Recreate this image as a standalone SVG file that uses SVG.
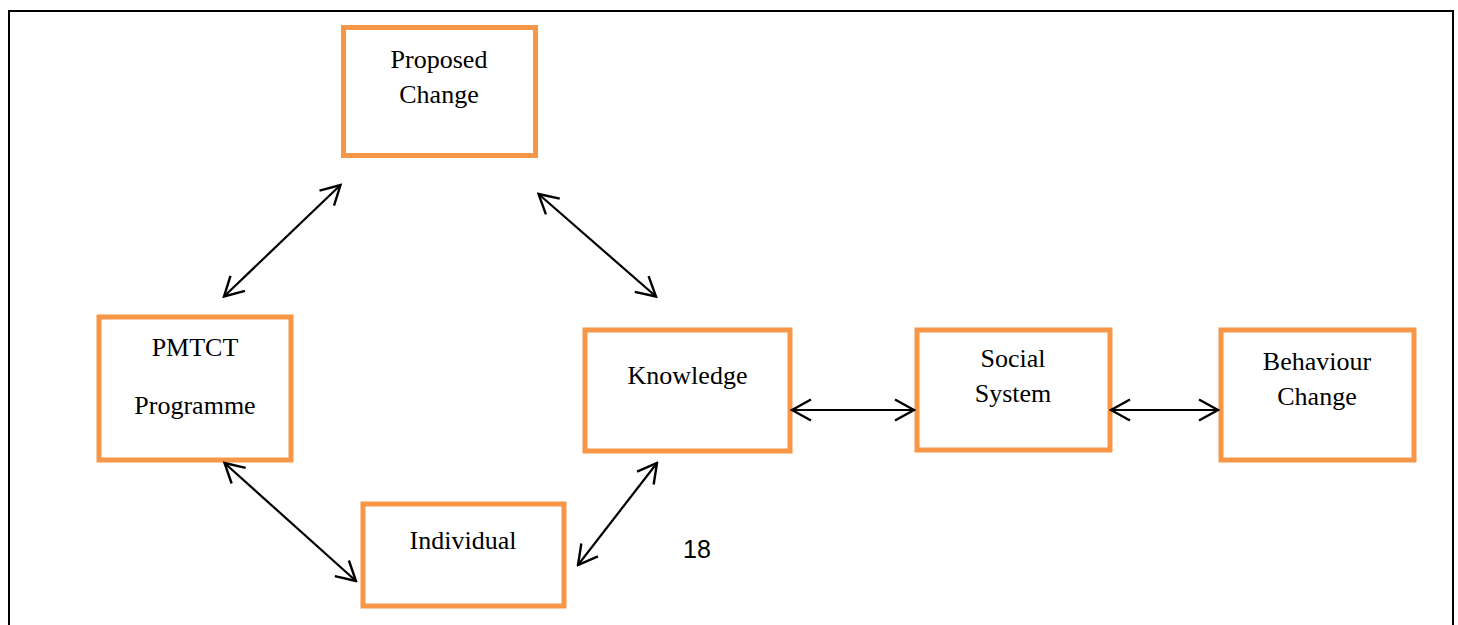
<svg xmlns="http://www.w3.org/2000/svg" width="1458" height="625" viewBox="0 0 1458 625">
<style>
.box{fill:#fff;stroke:#F79646;stroke-width:5}
.lbl{font-family:"Liberation Serif","Times New Roman",serif;font-size:26px;fill:#000;text-anchor:middle}
.con{stroke:#000;stroke-width:2.2;fill:none;marker-start:url(#ah);marker-end:url(#ah)}
</style>
<defs>
<marker id="ah" markerUnits="userSpaceOnUse" viewBox="-24 -13 26 26" refX="0" refY="0" markerWidth="26" markerHeight="26" orient="auto-start-reverse">
<path d="M-19,-10.5 L0,0 L-19,10.5" fill="none" stroke="#000" stroke-width="2.4"/>
</marker>
</defs>
<rect width="1458" height="625" fill="#fff"/>
<rect x="9" y="11" width="1444" height="640" fill="none" stroke="#000" stroke-width="2"/>
<g id="proposed-change"><rect class="box" x="343.5" y="27.5" width="192" height="128"/><text class="lbl" x="439" y="68">Proposed</text><text class="lbl" x="439" y="103">Change</text></g>
<g id="pmtct"><rect class="box" x="99" y="317" width="192" height="143"/><text class="lbl" x="195" y="356">PMTCT</text><text class="lbl" x="195" y="414">Programme</text></g>
<g id="knowledge"><rect class="box" x="585" y="330" width="205" height="121"/><text class="lbl" x="687.5" y="384">Knowledge</text></g>
<g id="social-system"><rect class="box" x="917" y="330" width="193" height="120"/><text class="lbl" x="1013" y="367">Social</text><text class="lbl" x="1013" y="402">System</text></g>
<g id="behaviour-change"><rect class="box" x="1221" y="330" width="193" height="130"/><text class="lbl" x="1317" y="370">Behaviour</text><text class="lbl" x="1317" y="405">Change</text></g>
<g id="individual"><rect class="box" x="363" y="504" width="201" height="102"/><text class="lbl" x="463" y="549">Individual</text></g>
<g id="connectors">
<line class="con" x1="224" y1="296.5" x2="340.5" y2="185"/>
<line class="con" x1="538.5" y1="194" x2="656" y2="296.5"/>
<line class="con" x1="224.5" y1="463" x2="356" y2="581"/>
<line class="con" x1="578" y1="565" x2="657" y2="463"/>
<line class="con" x1="792" y1="410" x2="914" y2="410"/>
<line class="con" x1="1111" y1="410" x2="1218" y2="410"/>
</g>
<text x="697" y="558" font-family="'Liberation Sans',Arial,sans-serif" font-size="25" text-anchor="middle" fill="#000">18</text>
</svg>
